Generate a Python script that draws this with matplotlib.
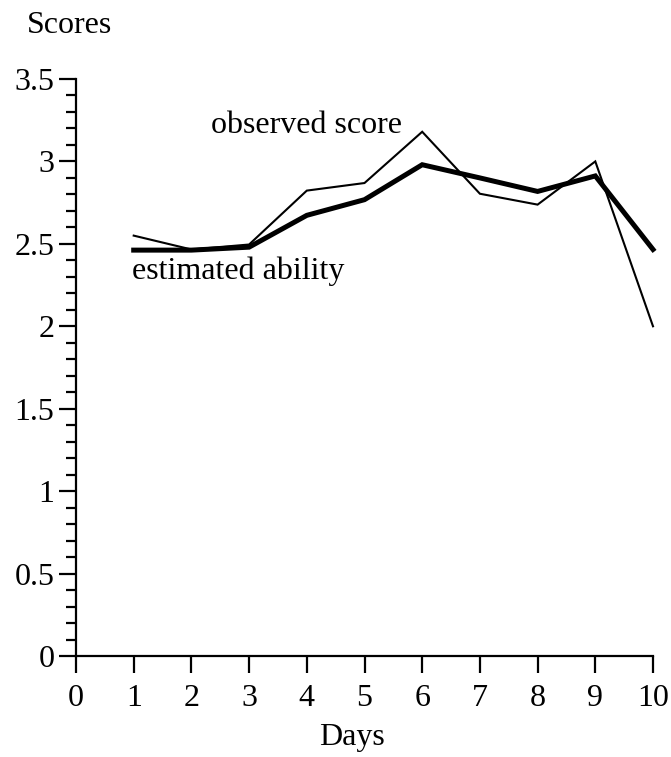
import matplotlib
matplotlib.use("Agg")
import matplotlib.pyplot as plt
from matplotlib.ticker import MultipleLocator, FuncFormatter

days = [1, 2, 3, 4, 5, 6, 7, 8, 9, 10]
observed = [2.55, 2.466, 2.496, 2.823, 2.869, 3.18, 2.804, 2.738, 3.0, 2.0]
estimated = [2.462, 2.462, 2.48, 2.673, 2.768, 2.98, 2.9, 2.818, 2.912, 2.466]
x_ticks = [0, 1, 2, 3, 4, 5, 6, 7, 8, 9, 10]

plt.rcParams['font.family'] = ['Liberation Serif', 'DejaVu Serif']
fs = 23

W, H = 671, 757
fig = plt.figure(figsize=(W / 100, H / 100), dpi=100)
left, right, bottom, top = 76, 653, 656, 79
ax = fig.add_axes([left / W, 1 - bottom / H, (right - left) / W, (bottom - top) / H])

ax.plot(days, observed, color='black', lw=1.5, solid_joinstyle='miter', clip_on=False)
ax.plot(days, estimated, color='black', lw=3.6, solid_joinstyle='miter', clip_on=False)

ax.set_xlim(0, 10)
ax.set_ylim(0, 3.5)
ax.spines['top'].set_visible(False)
ax.spines['right'].set_visible(False)
for s in ['left', 'bottom']:
    ax.spines[s].set_linewidth(1.6)

ax.set_xticks(x_ticks)
ax.yaxis.set_major_locator(MultipleLocator(0.5))
ax.yaxis.set_minor_locator(MultipleLocator(0.1))
ax.yaxis.set_major_formatter(FuncFormatter(lambda v, p: ('%g' % v)))
ax.tick_params(axis='both', which='major', direction='out', length=12.5, width=1.6,
               labelsize=fs, pad=3)
ax.tick_params(axis='y', which='minor', direction='out', length=7, width=1.6)
ax.tick_params(axis='x', which='major', length=12.5, pad=8)

ax.text(2.34, 3.172, 'observed score', fontsize=fs, ha='left', va='baseline')
ax.text(0.97, 2.287, 'estimated ability', fontsize=fs, ha='left', va='baseline')

fig.text(27 / W, 1 - 33 / H, 'Scores', fontsize=fs, ha='left', va='baseline')
fig.text(352 / W, 1 - 745 / H, 'Days', fontsize=fs, ha='center', va='baseline')

fig.savefig('out.png', dpi=100)
